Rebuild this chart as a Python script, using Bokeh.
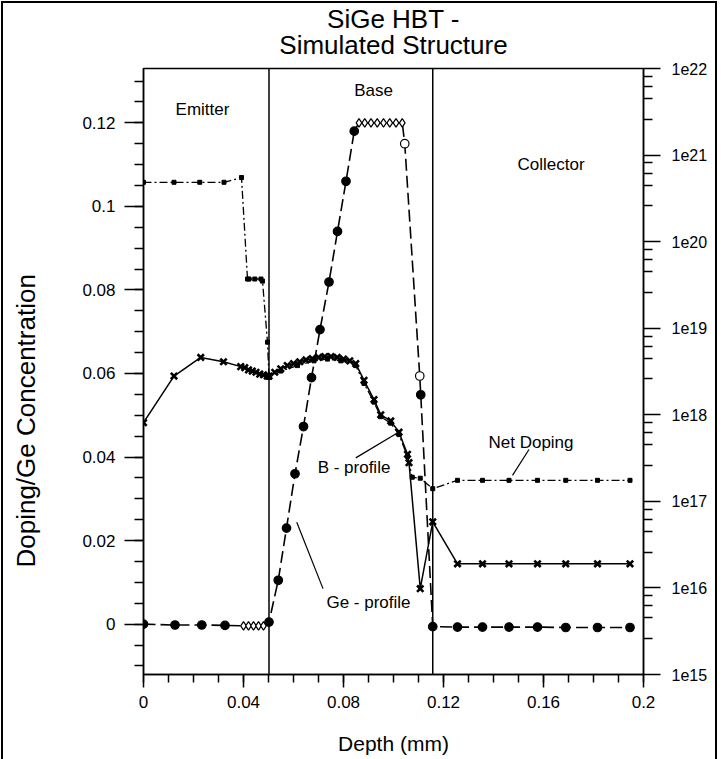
import math
from bokeh.plotting import figure
from bokeh.layouts import column, row
from bokeh.models import (Range1d, LogScale, LogAxis, FixedTicker, CustomJSTickFormatter,
                          Span, ColumnDataSource)
from bokeh.core.properties import value
from bokeh.embed import file_html
from bokeh.resources import INLINE

FONT = "Liberation Sans"

# ---------------- data ----------------
title_lines = ["SiGe HBT -", "Simulated Structure"]
x_label = "Depth (mm)"
y_label = "Doping/Ge Concentration"
x_ticks = [0, 0.04, 0.08, 0.12, 0.16, 0.2]
y_ticks = [0, 0.02, 0.04, 0.06, 0.08, 0.1, 0.12]
log_ticks = [1e15, 1e16, 1e17, 1e18, 1e19, 1e20, 1e21, 1e22]
region_bounds = [0.0502, 0.1157]

# Ge profile (left axis, fraction)
ge_depth = [0.0, 0.0126, 0.0233, 0.0326, 0.0400, 0.0420, 0.0440, 0.0460, 0.0480, 0.0502,
            0.0539, 0.0572, 0.0606, 0.0640, 0.0672, 0.0706, 0.0742, 0.0776, 0.0810, 0.0843,
            0.0862, 0.0885, 0.0910, 0.0935, 0.0960, 0.0985, 0.1010, 0.1035, 0.1045,
            0.1105, 0.1109, 0.1157, 0.1256, 0.1356, 0.1462, 0.1576, 0.1689, 0.1816, 0.1946]
ge_value = [0.0, -0.0002, -0.0002, -0.0003, -0.0004, -0.0004, -0.0004, -0.0004, -0.0004, 0.0005,
            0.0105, 0.023, 0.036, 0.0473, 0.059, 0.0705, 0.0819, 0.094, 0.106, 0.118,
            0.12, 0.12, 0.12, 0.12, 0.12, 0.12, 0.12, 0.12, 0.115,
            0.0594, 0.0549, -0.0006, -0.0007, -0.0007, -0.0007, -0.0007, -0.0008, -0.0008, -0.0008]
ge_marker = ["circle", "circle", "circle", "circle", "diamond", "diamond", "diamond", "diamond", "diamond", "circle",
             "circle", "circle", "circle", "circle", "circle", "circle", "circle", "circle", "circle", "circle",
             "diamond", "diamond", "diamond", "diamond", "diamond", "diamond", "diamond", "diamond", "circle",
             "circle", "circle", "circle", "circle", "circle", "circle", "circle", "circle", "circle", "circle"]
ge_filled = [1, 1, 1, 1, 0, 0, 0, 0, 0, 1,
             1, 1, 1, 1, 1, 1, 1, 1, 1, 1,
             0, 0, 0, 0, 0, 0, 0, 0, 0,
             0, 1, 1, 1, 1, 1, 1, 1, 1, 1]

# B profile (right axis, cm^-3)
b_depth = [0.0, 0.0122, 0.0229, 0.0320, 0.0389, 0.0405, 0.0420, 0.0435, 0.0450, 0.0465, 0.0480, 0.0495,
           0.0502, 0.0525, 0.0549, 0.0575, 0.0600, 0.0625, 0.0650, 0.0675, 0.0700, 0.0725, 0.0750,
           0.0775, 0.0800, 0.0825, 0.0849, 0.0882, 0.0922, 0.0949, 0.0989, 0.1022, 0.1056, 0.1062,
           0.1107, 0.1157, 0.1256, 0.1356, 0.1462, 0.1576, 0.1689, 0.1816, 0.1946]
b_conc = [8.1e17, 2.8e18, 4.6e18, 4.1e18, 3.6e18, 3.5e18, 3.3e18, 3.2e18, 3.1e18, 2.95e18, 2.9e18, 2.8e18,
          2.8e18, 3.1e18, 3.4e18, 3.7e18, 3.9e18, 4.1e18, 4.3e18, 4.45e18, 4.6e18, 4.7e18, 4.7e18,
          4.6e18, 4.4e18, 4.2e18, 3.9e18, 2.5e18, 1.5e18, 1.0e18, 8.5e17, 6.3e17, 3.5e17, 2.8e17,
          9.8e15, 5.8e16, 1.9e16, 1.9e16, 1.9e16, 1.9e16, 1.9e16, 1.9e16, 1.9e16]

# Net doping (right axis, cm^-3)
nd_depth = [0.0, 0.0122, 0.0225, 0.0322, 0.0392, 0.0416, 0.0422, 0.0445, 0.0470, 0.0476, 0.0496,
            0.0502, 0.0549, 0.0616, 0.0682, 0.0736, 0.0789, 0.0849, 0.0882, 0.0922, 0.0949, 0.0989,
            0.1022, 0.1056, 0.1075, 0.1107, 0.1157, 0.1256, 0.1356, 0.1462, 0.1576, 0.1689, 0.1816, 0.1946]
nd_conc = [4.85e20, 4.85e20, 4.85e20, 4.85e20, 5.5e20, 3.7e19, 3.7e19, 3.7e19, 3.7e19, 3.5e19, 6.9e18,
           2.7e18, 3.2e18, 3.7e18, 4.2e18, 4.4e18, 4.2e18, 3.7e18, 2.3e18, 1.4e18, 9.5e17, 8.0e17,
           5.9e17, 3.3e17, 1.9e17, 1.85e17, 1.4e17, 1.75e17, 1.75e17, 1.75e17, 1.75e17, 1.75e17, 1.75e17, 1.75e17]

# annotations
region_names = ["Emitter", "Base", "Collector"]
region_x = [0.0236, 0.0920, 0.1630]
region_y = [0.1233, 0.1278, 0.110]
curve_names = ["Net Doping", "B - profile", "Ge - profile"]
curve_x = [0.1550, 0.0842, 0.0900]
curve_y = [0.0436, 0.0376, 0.0052]
leader_x0 = [0.1542, 0.0849, 0.0718]
leader_y0 = [0.0418, 0.0398, 0.0085]
leader_x1 = [0.1476, 0.1022, 0.0613]
leader_y1 = [0.0356, 0.0460, 0.0244]

# ---------------- layout sizes (pixels) ----------------
TITLE_H = 56
LAB_W = 60
MAIN_W = 652
MAIN_H = 700


def blank(width, height):
    f = figure(width=width, height=height, output_backend="svg", toolbar_location=None,
               x_range=Range1d(0, width), y_range=Range1d(0, height),
               x_axis_type=None, y_axis_type=None, min_border=0,
               min_border_left=0, min_border_right=0, min_border_top=0, min_border_bottom=0,
               background_fill_color="white", border_fill_color="white")
    f.outline_line_color = None
    f.xgrid.visible = False
    f.ygrid.visible = False
    return f


# title panel
pt = blank(LAB_W + MAIN_W, TITLE_H)
pt.text([LAB_W + 330, LAB_W + 330], [TITLE_H - 15, TITLE_H - 41], text=title_lines,
        text_font=value(FONT), text_font_size="26px", text_align="center",
        text_baseline="middle", text_color="black")

# y-label panel
pl = blank(LAB_W, MAIN_H)
pl.text([22], [293], text=[y_label], text_font=value(FONT), text_font_size="26px",
        text_align="center", text_baseline="middle", text_color="black", angle=math.pi / 2)

# main plot
p = figure(width=MAIN_W, height=MAIN_H, output_backend="svg", toolbar_location=None,
           x_range=Range1d(0, 0.2), y_range=Range1d(-0.01205, 0.1330),
           min_border_left=80, min_border_right=72, min_border_top=9, min_border_bottom=85,
           background_fill_color="white", border_fill_color="white")
p.xgrid.visible = False
p.ygrid.visible = False
p.outline_line_color = "black"
p.outline_line_width = 1.5

num_fmt = CustomJSTickFormatter(code="return String(Number(tick.toFixed(4)));")

xa = p.xaxis[0]
xa.ticker = FixedTicker(ticks=x_ticks, minor_ticks=[i * 0.01 for i in range(21)])
xa.formatter = num_fmt
xa.axis_label = x_label
ya = p.yaxis[0]
ya.ticker = FixedTicker(ticks=y_ticks, minor_ticks=[-0.01 + i * 0.005 for i in range(29)])
ya.formatter = CustomJSTickFormatter(code="return String(Number(tick.toFixed(4)));")

p.extra_y_ranges = {"c": Range1d(1e15, 1e22)}
p.extra_y_scales = {"c": LogScale()}
minor_log = [m * 10 ** k for k in range(15, 22) for m in (2.6, 4.5, 6.2, 8.1)]
ra = LogAxis(y_range_name="c", ticker=FixedTicker(ticks=log_ticks, minor_ticks=minor_log),
             formatter=CustomJSTickFormatter(code="return '1e' + Math.round(Math.log10(tick));"))
p.add_layout(ra, "right")

for ax, tout, mout in ((xa, 13, 8), (ya, 19, 9), (ra, 17, 9)):
    ax.axis_line_color = "black"
    ax.axis_line_width = 1.5
    ax.major_tick_line_color = "black"
    ax.major_tick_line_width = 1.5
    ax.minor_tick_line_color = "black"
    ax.minor_tick_line_width = 1.5
    ax.major_tick_in = 0
    ax.minor_tick_in = 0
    ax.major_tick_out = tout
    ax.minor_tick_out = mout
    ax.major_label_text_font = FONT
    ax.major_label_text_font_size = "17px"
    ax.major_label_text_color = "black"
    ax.axis_label_text_font = FONT
    ax.axis_label_text_font_size = "21px"
    ax.axis_label_text_font_style = "normal"
    ax.axis_label_text_color = "black"
ra.major_label_text_font_size = "16px"
xa.major_label_standoff = 8
xa.axis_label_standoff = 21
ya.major_label_standoff = 9
ra.major_label_standoff = 11

# region boundaries
for b in region_bounds:
    p.add_layout(Span(location=b, dimension="height", line_color="black", line_width=1.5))

# Net doping
p.line(nd_depth, nd_conc, y_range_name="c", line_color="black", line_width=1.3,
       line_dash="8 3 2 3")
p.scatter(nd_depth, nd_conc, y_range_name="c", marker="square", size=4,
          fill_color="black", line_color="black")

# B profile
p.line(b_depth, b_conc, y_range_name="c", line_color="black", line_width=1.5)
p.scatter(b_depth, b_conc, y_range_name="c", marker="x", size=9, line_color="black",
          line_width=2.6)

# Ge profile
ge_src = ColumnDataSource(dict(x=ge_depth, y=ge_value, m=ge_marker,
                               fc=["black" if f else "white" for f in ge_filled]))
p.line(ge_depth, ge_value, line_color="black", line_width=1.6, line_dash="12 5")
p.scatter("x", "y", marker="m", fill_color="fc", line_color="black", line_width=1.2,
          size=8.5, source=ge_src)

# text annotations
p.text(region_x, region_y, text=region_names, text_font=value(FONT), text_font_size="17px",
       text_align="center", text_baseline="middle", text_color="black")
p.text(curve_x, curve_y, text=curve_names, text_font=value(FONT), text_font_size="17px",
       text_align="center", text_baseline="middle", text_color="black")
p.segment(leader_x0, leader_y0, leader_x1, leader_y1, line_color="black", line_width=1.2)

layout = column(pt, row(pl, p, spacing=0), spacing=0)
layout.styles = {"border-left": "2px solid black", "border-top": "2px solid black",
                 "border-right": "2px solid black", "box-sizing": "content-box",
                 "margin-left": "1px", "margin-top": "1px"}

open("out.html", "w").write(file_html(layout, INLINE))
